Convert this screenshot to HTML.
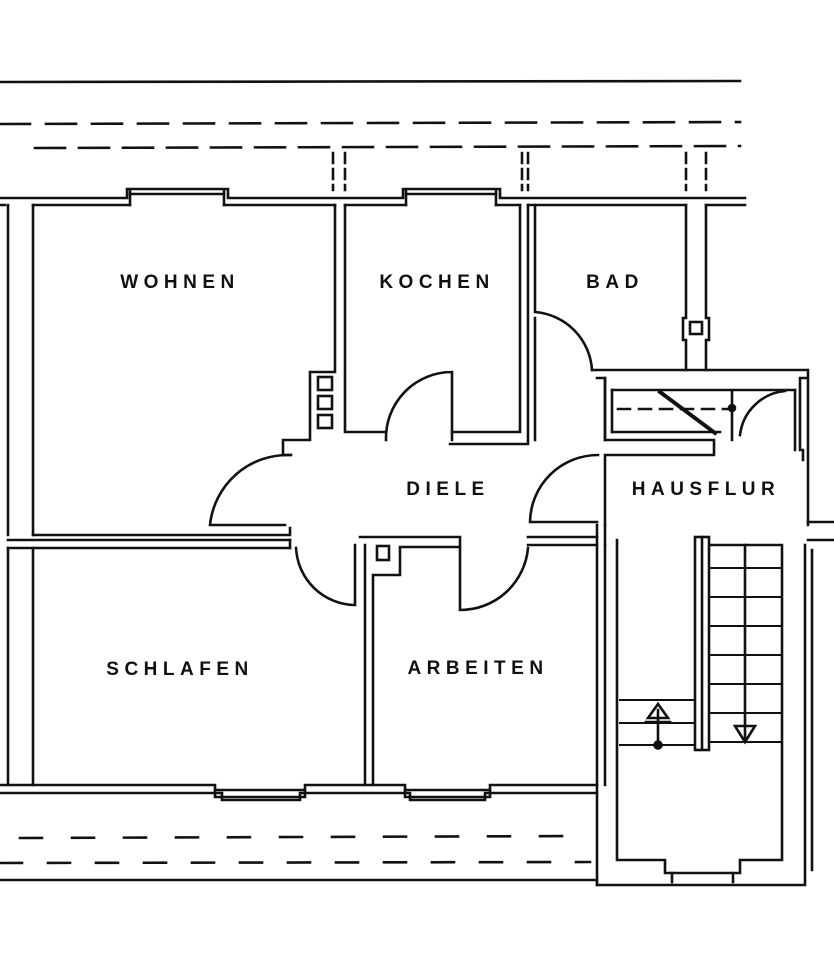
<!DOCTYPE html>
<html><head><meta charset="utf-8"><style>
html,body{margin:0;padding:0;background:#fff;}
svg{display:block}
text{font-family:"Liberation Sans",sans-serif;font-weight:bold;font-size:19px;letter-spacing:5.5px;fill:#111;text-anchor:middle}
</style></head><body>
<svg width="834" height="960" viewBox="0 0 834 960" xmlns="http://www.w3.org/2000/svg">
<g fill="none" stroke="#111" stroke-width="2.6" stroke-linecap="square">
<line x1="0" y1="82" x2="740" y2="81"/>
<line x1="0" y1="124" x2="740" y2="122" stroke-dasharray="30 16"/>
<line x1="35" y1="148" x2="740" y2="146" stroke-dasharray="30 14"/>
<g stroke-dasharray="10 6">
<line x1="333" y1="153" x2="333" y2="190"/><line x1="345" y1="153" x2="345" y2="190"/>
<line x1="522" y1="153" x2="522" y2="190"/><line x1="528" y1="153" x2="528" y2="190"/>
<line x1="686" y1="153" x2="686" y2="190"/><line x1="706" y1="153" x2="706" y2="190"/>
</g>
<path d="M0 198 H127 V189 H228 V198 H403 V189 H500 V198 H745"/>
<path d="M0 205 H5 M33 205 H130 M224 205 H335 M345 205 H406 M496 205 H520 M528 205 H686 M706 205 H745"/>
<line x1="130" y1="194" x2="224" y2="194"/><line x1="406" y1="194" x2="496" y2="194"/>
<line x1="130" y1="190" x2="130" y2="205"/><line x1="224" y1="190" x2="224" y2="205"/>
<line x1="406" y1="190" x2="406" y2="205"/><line x1="496" y1="190" x2="496" y2="205"/>
<line x1="8" y1="205" x2="8" y2="535"/><line x1="8" y1="548" x2="8" y2="785"/>
<line x1="33" y1="205" x2="33" y2="535"/><line x1="33" y1="548" x2="33" y2="785"/>
<path d="M335 205 V372 H310 V440 H283 V455 H291"/>
<path d="M345 205 V432 H385"/>
<rect x="318" y="377" width="14" height="13"/><rect x="318" y="396" width="14" height="13"/><rect x="318" y="415" width="14" height="13"/>
<path d="M33 535 H290 V528"/>
<path d="M8 540 H290 M8 548 H290"/>
<path d="M520 205 V432 H452"/>
<path d="M450 444 H528 V205"/>
<path d="M452 372 V440 M452 372 A66 66 0 0 0 386 440"/>
<path d="M535 205 V312 M535 312 A62 62 0 0 1 592 370 M535 318 V440"/>
<path d="M686 205 V318 H683 V340 H686 V370 M706 205 V318 H709 V340 H706 V370"/>
<rect x="690" y="322" width="12" height="12"/>
<path d="M592 370 H808 V378 H800 V450 H803 V460 M808 378 V525"/>
<path d="M597 378 H605 V440 H714 V455 H605 V525"/>
<path d="M605 378 V440 M612 390 H795 M612 432 H720"/>
<path d="M612 390 V432 M795 390 V450"/>
<line x1="660" y1="392" x2="715" y2="433" stroke-width="4"/>
<line x1="618" y1="409" x2="730" y2="409" stroke-dasharray="12 9"/>
<path d="M732 392 V440 M740 435 A50 50 0 0 1 785 391"/>
<circle cx="732" cy="408" r="3" fill="#111"/>
<path d="M290 455 A78 78 0 0 0 210 525 H285"/>
<path d="M598 455 A68 68 0 0 0 530 522 H597"/>
<path d="M290 540 V548 M296 548 A60 60 0 0 0 355 605 V545"/>
<path d="M360 537 H460 V547 H400 V575 H373 V785"/>
<path d="M365 545 V785"/>
<rect x="377" y="546" width="12" height="14"/>
<path d="M460 548 V610 M460 610 A68 68 0 0 0 528 548 M528 537 H597 M528 545 H597"/>
<line x1="597" y1="525" x2="597" y2="885"/><line x1="605" y1="545" x2="605" y2="785"/>
<line x1="605" y1="525" x2="605" y2="545"/>
<path d="M0 785 H215 V797 H305 V785 H405 V797 H490 V785 H597"/>
<path d="M0 793 H222 V800 H300 V793 H410 V800 H485 V793 H597"/>
<line x1="215" y1="790" x2="305" y2="790"/><line x1="405" y1="790" x2="490" y2="790"/>
<line x1="20" y1="838" x2="585" y2="836" stroke-dasharray="22 30"/>
<line x1="0" y1="863" x2="590" y2="862" stroke-dasharray="22 26"/>
<line x1="0" y1="880" x2="597" y2="880"/>
<path d="M617 540 V860 H665 V873 H740 V860 H782 V545 H710"/>
<rect x="695" y="537" width="14" height="213"/>
<path d="M702 537 V748"/>
<path d="M597 885 H805 V545 M812 550 V870"/>
<path d="M672 873 V882 M733 873 V882"/>
<g stroke-width="2">
<line x1="710" y1="568" x2="780" y2="568"/><line x1="710" y1="597" x2="780" y2="597"/>
<line x1="710" y1="626" x2="780" y2="626"/><line x1="710" y1="655" x2="780" y2="655"/>
<line x1="710" y1="684" x2="780" y2="684"/><line x1="710" y1="713" x2="780" y2="713"/>
<line x1="710" y1="742" x2="780" y2="742"/>
<line x1="620" y1="700" x2="695" y2="700"/><line x1="620" y1="723" x2="695" y2="723"/>
<line x1="620" y1="745" x2="695" y2="745"/>
</g>
<path d="M745 545 V740 M735 726 H755 L745 742 Z"/>
<path d="M658 745 V710 M648 718 L658 704 L668 718 Z M646 722 H670"/>
<circle cx="658" cy="745" r="3.5" fill="#111"/>
<path d="M808 522 H834 M808 540 H834"/>
</g>
<text x="180" y="288">WOHNEN</text>
<text x="437" y="288">KOCHEN</text>
<text x="615" y="288">BAD</text>
<text x="448" y="495">DIELE</text>
<text x="706" y="495">HAUSFLUR</text>
<text x="180" y="675">SCHLAFEN</text>
<text x="478" y="674">ARBEITEN</text>
</svg>
</body></html>
